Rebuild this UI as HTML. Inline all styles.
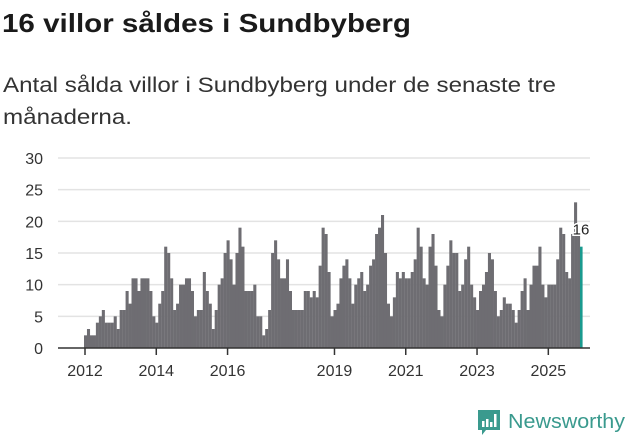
<!DOCTYPE html>
<html><head><meta charset="utf-8"><style>
html,body{margin:0;padding:0;background:#fff;width:631px;height:439px;overflow:hidden}
svg text{font-family:"Liberation Sans","DejaVu Sans",sans-serif}
</style></head><body>
<svg id="chart" width="631" height="439" viewBox="0 0 631 439" xmlns="http://www.w3.org/2000/svg">
<text x="2" y="32" font-size="26" font-weight="bold" fill="#1a1a1a" textLength="409" lengthAdjust="spacingAndGlyphs">16 villor såldes i Sundbyberg</text>
<text x="3" y="92" font-size="21" fill="#333" textLength="553" lengthAdjust="spacingAndGlyphs">Antal sålda villor i Sundbyberg under de senaste tre</text>
<text x="3" y="124" font-size="21" fill="#333" textLength="129" lengthAdjust="spacingAndGlyphs">månaderna.</text>
<g id="grid"></g>
<g id="bars"></g>
<g id="axis"></g>
<g>
<path d="M478 410h22v20h-14l-4 5v-5h-4z" fill="#3a9a8e"/>
<rect x="482" y="421" width="2.5" height="6" fill="#fff"/>
<rect x="486" y="419" width="2.5" height="8" fill="#fff"/>
<rect x="490" y="422" width="2.5" height="5" fill="#fff"/>
<rect x="494" y="414" width="2.5" height="13" fill="#fff"/>
<text x="508" y="428" font-size="20" fill="#3a9a8e" textLength="117" lengthAdjust="spacingAndGlyphs">Newsworthy</text>
</g>
</svg>
<script>
const years = [2012,2013,2014,2015,2016,2017,2018,2019,2020,2021,2022,2023,2024,2025];
const tickYears = [2012,2014,2016,2019,2021,2023,2025];
const yTicks = [0,5,10,15,20,25,30];
const v2012 = [2,3,2,2,4,5,6,4,4,4,5,3];
const v2013 = [6,6,9,7,11,11,9,11,11,11,9,5];
const v2014 = [4,7,9,16,15,11,6,7,10,10,11,11];
const v2015 = [9,5,6,6,12,9,7,3,6,10,11,15];
const v2016 = [17,14,10,15,19,16,9,9,9,10,5,5];
const v2017 = [2,3,6,15,17,14,11,11,14,9,6,6];
const v2018 = [6,6,9,9,8,9,8,13,19,18,12,5];
const v2019 = [6,7,11,13,14,11,7,10,11,12,9,10];
const v2020 = [13,14,18,19,21,15,7,5,8,12,11,12];
const v2021 = [11,11,12,14,19,16,11,10,16,18,13,6];
const v2022 = [5,10,13,17,15,15,9,10,14,16,10,8];
const v2023 = [6,9,10,12,15,14,9,5,6,8,7,7];
const v2024 = [6,4,6,9,11,6,10,13,13,16,10,8];
const v2025 = [10,10,10,14,19,18,12,11,18,23,18,16];
const values = [].concat(v2012,v2013,v2014,v2015,v2016,v2017,v2018,v2019,v2020,v2021,v2022,v2023,v2024,v2025);
const lastLabel = "16";

const NS = "http://www.w3.org/2000/svg";
const x0 = 84, step = 2.97, y0 = 348, yMax = 30, plotH = 190;
const xScale = i => x0 + i * step;
const yScale = v => y0 - v / yMax * plotH;
const xYear = yr => xScale((yr - years[0]) * 12);

const grid = document.getElementById('grid');
yTicks.forEach(t => {
  if (t > 0) {
    const l = document.createElementNS(NS, 'line');
    
    
    l.setAttribute('x1', 58); l.setAttribute('x2', 590);
    l.setAttribute('y1', yScale(t)); l.setAttribute('y2', yScale(t));
    l.setAttribute('stroke', '#e3e3e3'); l.setAttribute('stroke-width', '1.5');
    grid.appendChild(l);
  }
  const tx = document.createElementNS(NS, 'text');
  
  
  tx.setAttribute('x', 43); tx.setAttribute('y', yScale(t) + 6);
  tx.setAttribute('text-anchor', 'end'); tx.setAttribute('font-size', '16'); tx.setAttribute('fill', '#333');
  tx.textContent = t;
  grid.appendChild(tx);
});

const bars = document.getElementById('bars');
values.forEach((v, i) => {
  const r = document.createElementNS(NS, 'rect');
  
  
  const last = i === values.length - 1;
  r.setAttribute('x', xScale(i));
  r.setAttribute('width', last ? 2.6 : step + 0.1);
  r.setAttribute('y', yScale(v));
  r.setAttribute('height', y0 - yScale(v));
  r.setAttribute('fill', last ? '#1a9a8f' : '#6e6d72');
  bars.appendChild(r);
});
const li = values.length - 1;
const lbl = document.createElementNS(NS, 'text');


lbl.setAttribute('x', xScale(li) + 1); lbl.setAttribute('y', yScale(values[li]) - 12);
lbl.setAttribute('text-anchor', 'middle'); lbl.setAttribute('font-size', '15'); lbl.setAttribute('fill', '#222');
lbl.setAttribute('stroke', '#fff'); lbl.setAttribute('stroke-width', '3'); lbl.setAttribute('paint-order', 'stroke');
lbl.textContent = lastLabel;
bars.appendChild(lbl);

const axis = document.getElementById('axis');
const base = document.createElementNS(NS, 'line');


base.setAttribute('x1', 58); base.setAttribute('x2', 590);
base.setAttribute('y1', y0); base.setAttribute('y2', y0);
base.setAttribute('stroke', '#333'); base.setAttribute('stroke-width', '1.5');
axis.appendChild(base);
tickYears.forEach(yr => {
  const x = xYear(yr) + 1;
  const t = document.createElementNS(NS, 'line');
  
  
  t.setAttribute('x1', x); t.setAttribute('x2', x);
  t.setAttribute('y1', y0); t.setAttribute('y2', y0 + 7);
  t.setAttribute('stroke', '#333'); t.setAttribute('stroke-width', '1.5');
  axis.appendChild(t);
  const tx = document.createElementNS(NS, 'text');
  
  
  tx.setAttribute('x', x); tx.setAttribute('y', 376);
  tx.setAttribute('text-anchor', 'middle'); tx.setAttribute('font-size', '16'); tx.setAttribute('fill', '#333');
  tx.textContent = yr;
  axis.appendChild(tx);
});
</script>
</body></html>
